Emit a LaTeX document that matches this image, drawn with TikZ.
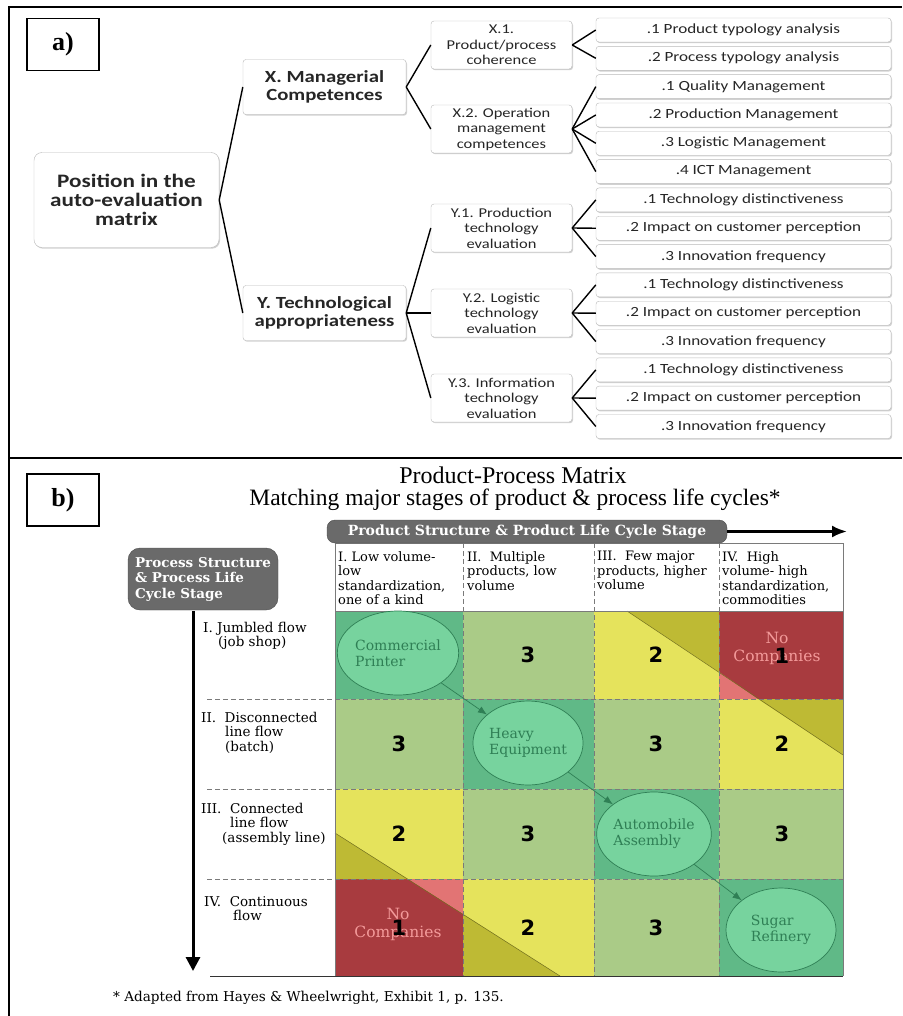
\documentclass[tikz,border=0pt]{standalone}
\usepackage{fontspec}
\setmainfont{Liberation Serif}
\newfontfamily\calfont[FakeStretch=1.22]{Carlito}
\newfontfamily\numfont{DejaVu Sans}
\newfontfamily\cenfont{DejaVu Serif}
\usetikzlibrary{shapes.geometric,arrows.meta,shadows}
\definecolor{cellgreen}{HTML}{AACB87}
\definecolor{dkgreen}{HTML}{60B987}
\definecolor{circfill}{HTML}{77D39E}
\definecolor{circline}{HTML}{2F7F55}
\definecolor{cellyellow}{HTML}{E5E35C}
\definecolor{olive}{HTML}{BEBA34}
\definecolor{cellred}{HTML}{A83B3F}
\definecolor{pinktri}{HTML}{E27474}
\definecolor{nocomp}{HTML}{F39A9A}
\definecolor{tabgray}{HTML}{6A6A6A}
\definecolor{gridgray}{HTML}{7A7A7A}

\begin{document}
\begin{tikzpicture}[x=1pt,y=-1pt,
  box/.style={draw=gray!55, rounded corners=3pt, fill=white, align=center, text=black!85,
    drop shadow={shadow xshift=1pt, shadow yshift=-1.2pt, fill=black, opacity=0.18}},
  leaf/.style={box, minimum width=295pt, minimum height=24pt, inner sep=0pt, font=\calfont\fontsize{14}{16}\selectfont},
  sub/.style={box, minimum width=141pt, minimum height=48pt, inner sep=1pt, font=\calfont\fontsize{13.5}{15.5}\selectfont},
  lvlone/.style={box, minimum width=163pt, minimum height=55pt, inner sep=1pt, font=\calfont\bfseries\fontsize{17}{17.5}\selectfont},
  rootbox/.style={box, rounded corners=8pt, minimum width=185pt, minimum height=95pt, font=\calfont\bfseries\fontsize{19}{19}\selectfont},
  branch/.style={line width=1.4pt, black},
  panel/.style={draw, line width=1.5pt, minimum width=72pt, minimum height=52pt, font=\bfseries\fontsize{26}{26}\selectfont},
  heading/.style={anchor=base, inner sep=0pt, font=\fontsize{24}{24}\selectfont},
  rowlab/.style={anchor=north west, inner sep=0pt, align=left, font=\cenfont\fontsize{13.5}{14.5}\selectfont},
  colhead/.style={anchor=north west, inner sep=0pt, align=left, font=\cenfont\fontsize{13}{14.5}\selectfont},
  graytab/.style={fill=tabgray, draw=black!70, text=white, font=\cenfont\bfseries\fontsize{14}{15.5}\selectfont},
  stage/.style={ellipse, fill=circfill, draw=circline, line width=0.7pt, text=circline, align=left,
    minimum width=110pt, minimum height=84pt, inner sep=0pt, font=\cenfont\fontsize{14}{16}\selectfont},
  flow/.style={-{Latex[length=9pt,width=7pt]}, draw=circline, line width=0.7pt},
  num/.style={font=\numfont\bfseries\fontsize{21}{21}\selectfont},
  nocompany/.style={text=nocomp, align=center, font=\cenfont\fontsize{15.5}{18}\selectfont},
  griddash/.style={draw=gridgray, line width=0.8pt, dash pattern=on 5pt off 3pt}]
\useasboundingbox (0,0) rectangle (902,1016);
\draw[line width=2pt] (9,1016) -- (9,7) -- (902,7);
\draw[line width=2pt] (9,458) -- (902,458);

\node[panel] (pa) at (63,44.5) {a)};
\node[rootbox] (root) at (126.5,200) {Position in the\\auto-evaluation\\matrix};
\node[lvlone] (mc) at (324.5,87) {X. Managerial\\Competences};
\node[lvlone] (ta) at (324.5,313) {Y. Technological\\appropriateness};
\node[sub] (x1) at (501.5,45) {X.1.\\Product/process\\coherence};
\node[sub] (x2) at (501.5,129) {X.2. Operation\\management\\competences};
\node[sub] (y1) at (501.5,228) {Y.1. Production\\technology\\evaluation};
\node[sub] (y2) at (501.5,313) {Y.2. Logistic\\technology\\evaluation};
\node[sub] (y3) at (501.5,398) {Y.3. Information\\technology\\evaluation};
\foreach \lab [count=\i] in {.1 Product typology analysis, .2 Process typology analysis,
    .1 Quality Management, .2 Production Management, .3 Logistic Management, .4 ICT Management,
    .1 Technology distinctiveness, .2 Impact on customer perception, .3 Innovation frequency,
    .1 Technology distinctiveness, .2 Impact on customer perception, .3 Innovation frequency,
    .1 Technology distinctiveness, .2 Impact on customer perception, .3 Innovation frequency}
  \node[leaf] (l\i) at (743.5,{30+28.32*(\i-1)}) {\lab};
\draw[branch] (root.east) -- (mc.west);
\draw[branch] (root.east) -- (ta.west);
\draw[branch] (mc.east) -- (x1.west);
\draw[branch] (mc.east) -- (x2.west);
\draw[branch] (ta.east) -- (y1.west);
\draw[branch] (ta.east) -- (y2.west);
\draw[branch] (ta.east) -- (y3.west);
\foreach \p/\c in {x1/1,x1/2,x2/3,x2/4,x2/5,x2/6,y1/7,y1/8,y1/9,y2/10,y2/11,y2/12,y3/13,y3/14,y3/15}
  \draw[branch] (\p.east) -- (l\c.west);

\node[panel] (pb) at (63,500) {b)};
\node[heading] (title) at (513,483) {Product-Process Matrix};
\node[heading, font=\fontsize{23.5}{24}\selectfont] (subtitle) at (515,505.5) {Matching major stages of product \& process life cycles*};

\fill[dkgreen] (335,611) rectangle (463,699);
\fill[cellgreen] (463,611) rectangle (594,699);
\fill[cellyellow] (594,611) rectangle (719,699);
\fill[cellred] (719,611) rectangle (843,699);
\fill[cellgreen] (335,699) rectangle (463,789);
\fill[dkgreen] (463,699) rectangle (594,789);
\fill[cellgreen] (594,699) rectangle (719,789);
\fill[cellyellow] (719,699) rectangle (843,789);
\fill[cellyellow] (335,789) rectangle (463,879);
\fill[cellgreen] (463,789) rectangle (594,879);
\fill[dkgreen] (594,789) rectangle (719,879);
\fill[cellgreen] (719,789) rectangle (843,879);
\fill[cellred] (335,879) rectangle (463,976);
\fill[cellyellow] (463,879) rectangle (594,976);
\fill[cellgreen] (594,879) rectangle (719,976);
\fill[dkgreen] (719,879) rectangle (843,976);
\fill[olive] (627,611) -- (719,611) -- (719,672) -- cycle;
\fill[pinktri] (719,672) -- (719,699) -- (758,699) -- cycle;
\fill[olive] (758,699) -- (843,699) -- (843,755) -- cycle;
\fill[olive] (335,833) -- (335,879) -- (408,879) -- cycle;
\fill[pinktri] (408,879) -- (463,879) -- (463,914) -- cycle;
\fill[olive] (463,914) -- (463,976) -- (560,976) -- cycle;
\draw[olive!60!black, line width=0.5pt] (627,611) -- (843,755);
\draw[olive!60!black, line width=0.5pt] (335,833) -- (560,976);

\foreach \yy in {699,789,879} \draw[griddash] (207,\yy) -- (843,\yy);
\foreach \xx in {463,594,719} \draw[griddash] (\xx,543) -- (\xx,976);
\draw[gridgray, line width=0.8pt] (335,543) rectangle (843,611);
\draw[gridgray, line width=0.8pt] (335,611) -- (335,976);
\draw[gridgray, line width=1pt] (843,611) -- (843,976);
\draw[black!80, line width=1pt] (210,976) -- (843,976);

\node[graytab, rounded corners=8pt, minimum width=400pt, minimum height=23pt, inner sep=0pt] (psbar) at (527,531.5) {Product Structure \& Product Life Cycle Stage};
\coordinate (barend) at (847,531.5);
\draw[line width=2.6pt, -{Latex[length=15pt,width=12pt]}] (psbar.east) -- (barend);
\node[graytab, rounded corners=12pt, minimum width=150pt, minimum height=62pt, align=left, inner sep=0pt, font=\cenfont\bfseries\fontsize{13.5}{15.5}\selectfont] (prbox) at (203,579) {Process Structure\\\& Process Life\\Cycle Stage};

\node[colhead] (ch1) at (338,551) {I. Low volume-\\low\\standardization,\\one of a kind};
\node[colhead] (ch2) at (467,551) {II.\ \ Multiple\\products, low\\volume};
\node[colhead] (ch3) at (597,551) {III.\ \ Few major\\products, higher\\volume};
\node[colhead] (ch4) at (722,551) {IV.\ \ High\\volume- high\\standardization,\\commodities};

\coordinate (vtop) at (193,611);
\coordinate (vbot) at (193,971);
\draw[line width=3pt, -{Triangle[length=14pt,width=14pt]}] (vtop) -- (vbot);
\node[rowlab] (rl1) at (203,622) {I. Jumbled flow\\\hspace{15pt}(job shop)};
\node[rowlab] (rl2) at (201,712) {II.\ \ Disconnected\\\hspace{24pt}line flow\\\hspace{24pt}(batch)};
\node[rowlab] (rl3) at (201,803) {III.\ \ Connected\\\hspace{29pt}line flow\\\hspace{21pt}(assembly line)};
\node[rowlab] (rl4) at (204,896) {IV.\ \ Continuous\\\hspace{29pt}flow};

\node[stage] (cprint) at (398,653) {Commercial\\Printer};
\node[stage] (heavy) at (528,743) {Heavy\\Equipment};
\node[stage] (auto) at (654,834) {Automobile\\Assembly};
\node[stage] (sugar) at (781,930) {Sugar\\Refinery};
\draw[flow] (cprint) -- (heavy);
\draw[flow] (heavy) -- (auto);
\draw[flow] (auto) -- (sugar);

\node[nocompany] (nc1) at (777,648) {No\\Companies};
\node[nocompany] (nc4) at (398,924) {No\\Companies};
\node[num] (n12) at (528,655) {3};
\node[num] (n13) at (656,655) {2};
\node[num] (n14) at (782,656) {1};
\node[num] (n21) at (399,744) {3};
\node[num] (n23) at (656,744) {3};
\node[num] (n24) at (782,744) {2};
\node[num] (n31) at (399,834) {2};
\node[num] (n32) at (528,834) {3};
\node[num] (n34) at (782,834) {3};
\node[num] (n41) at (399,928) {1};
\node[num] (n42) at (528,928) {2};
\node[num] (n43) at (656,928) {3};

\node[anchor=base west, inner sep=0pt, font=\cenfont\fontsize{13.6}{13.6}\selectfont] (note) at (113,1001) {* Adapted from Hayes \& Wheelwright, Exhibit 1, p. 135.};
\end{tikzpicture}
\end{document}
